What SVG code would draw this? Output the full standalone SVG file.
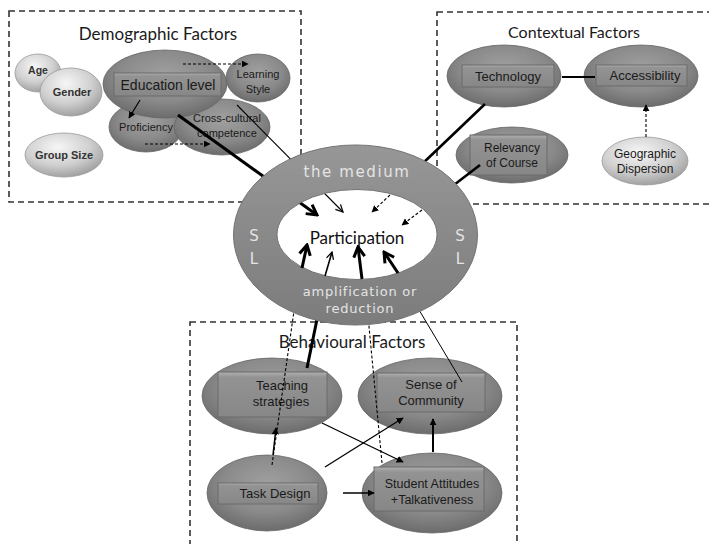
<svg xmlns="http://www.w3.org/2000/svg" width="709" height="544" viewBox="0 0 709 544">
<defs>
<radialGradient id="gDark" cx="50%" cy="38%" r="62%">
<stop offset="0" stop-color="#a0a0a0"/><stop offset="0.6" stop-color="#8a8a8a"/><stop offset="1" stop-color="#6c6c6c"/>
</radialGradient>
<radialGradient id="gLight" cx="42%" cy="32%" r="68%">
<stop offset="0" stop-color="#f6f6f6"/><stop offset="0.6" stop-color="#d0d0d0"/><stop offset="1" stop-color="#a2a2a2"/>
</radialGradient>
<linearGradient id="gRect" x1="0" y1="0" x2="0" y2="1">
<stop offset="0" stop-color="#b0b0b0"/><stop offset="0.12" stop-color="#939393"/><stop offset="1" stop-color="#878787"/>
</linearGradient>
<linearGradient id="gRing" x1="0" y1="0" x2="0" y2="1">
<stop offset="0" stop-color="#979797"/><stop offset="0.5" stop-color="#898989"/><stop offset="1" stop-color="#7c7c7c"/>
</linearGradient>
<marker id="chevT" markerUnits="userSpaceOnUse" viewBox="0 0 14 14" refX="12" refY="7" markerWidth="14" markerHeight="14" orient="auto">
<path d="M2,1.5 L12,7 L2,12.5" fill="none" stroke="#000" stroke-width="3"/>
</marker>
<marker id="chevS" markerUnits="userSpaceOnUse" viewBox="0 0 10 10" refX="9" refY="5" markerWidth="9" markerHeight="9" orient="auto">
<path d="M1,1 L9,5 L1,9" fill="none" stroke="#000" stroke-width="1.4"/>
</marker>
<marker id="tri" markerUnits="userSpaceOnUse" viewBox="0 0 10 10" refX="9" refY="5" markerWidth="7" markerHeight="7" orient="auto">
<path d="M0,0 L10,5 L0,10 z" fill="#000"/>
</marker>
</defs>
<style>
.box{fill:none;stroke:#333;stroke-width:1.6;stroke-dasharray:6 4}
.title{font-family:Lato,"Liberation Sans",sans-serif;fill:#1a1a1a;text-anchor:middle}
.dk{fill:url(#gDark);stroke:#666;stroke-width:0.8}
.lt{fill:url(#gLight);stroke:#999;stroke-width:0.8}
.rc{fill:url(#gRect);stroke:#6a6a6a;stroke-width:1}
.lbl{font-family:"Liberation Sans",Arial,sans-serif;fill:#1a1a1a;text-anchor:middle}
.b{font-weight:bold;fill:#333}
.ring{font-family:"DejaVu Sans",sans-serif;fill:#e4e4e4;text-anchor:middle}
.s{fill:none;stroke:#000}
.dash{fill:none;stroke:#000;stroke-width:1.1;stroke-dasharray:3 2}
</style>
<rect width="709" height="544" fill="#fff"/>

<g id="frames">
<rect class="box" x="9" y="11" width="292" height="191"/>
<rect class="box" x="437" y="12" width="285" height="192"/>
<rect class="box" x="190" y="322" width="327" height="240"/>
<text class="title" x="158" y="40" font-size="17">Demographic Factors</text>
<text class="title" x="574" y="38" font-size="16">Contextual Factors</text>
<text class="title" x="352" y="348" font-size="17">Behavioural Factors</text>
</g>

<g id="age"><ellipse class="lt" cx="38" cy="73" rx="23" ry="19"/><text class="lbl b" x="38" y="74" font-size="10.5">Age</text></g>
<g id="gender"><ellipse class="lt" cx="71" cy="92" rx="31" ry="24"/><text class="lbl b" x="72" y="96" font-size="11">Gender</text></g>
<g id="groupsize"><ellipse class="lt" cx="64" cy="155" rx="39" ry="22"/><text class="lbl b" x="64" y="159" font-size="11">Group Size</text></g>
<g id="proficiency"><ellipse class="dk" cx="146" cy="127" rx="37" ry="25"/><text class="lbl" x="146" y="131" font-size="11">Proficiency</text></g>
<g id="crosscultural"><ellipse class="dk" cx="222" cy="127" rx="48" ry="28"/><text class="lbl" x="227" y="122" font-size="11">Cross-cultural</text><text class="lbl" x="227" y="137" font-size="11">competence</text></g>
<g id="learningstyle"><ellipse class="dk" cx="258" cy="78" rx="32" ry="24"/><text class="lbl" x="258" y="78" font-size="11">Learning</text><text class="lbl" x="258" y="93" font-size="11">Style</text></g>
<g id="education"><ellipse class="dk" cx="165" cy="84" rx="62" ry="34"/><rect class="rc" x="114" y="73" width="107" height="23"/><text class="lbl" x="168" y="90" font-size="14">Education level</text></g>

<g id="technology"><ellipse class="dk" cx="504" cy="76" rx="57" ry="31"/><rect class="rc" x="462" y="65" width="92" height="22"/><text class="lbl" x="508" y="81" font-size="13">Technology</text></g>
<g id="accessibility"><ellipse class="dk" cx="641" cy="76" rx="57" ry="31"/><rect class="rc" x="596" y="65" width="91" height="21"/><text class="lbl" x="645" y="80" font-size="13">Accessibility</text></g>
<g id="relevancy"><ellipse class="dk" cx="512" cy="155" rx="56" ry="28"/><rect class="rc" x="470" y="135" width="77" height="40"/><text class="lbl" x="512" y="152" font-size="12">Relevancy</text><text class="lbl" x="512" y="167" font-size="12">of Course</text></g>
<g id="geographic"><ellipse class="lt" cx="645" cy="161" rx="43" ry="24"/><text class="lbl" x="645" y="158" font-size="12" fill="#2a2a2a">Geographic</text><text class="lbl" x="645" y="173" font-size="12">Dispersion</text></g>

<g id="teaching"><ellipse class="dk" cx="272" cy="396" rx="70" ry="38"/><rect class="rc" x="218" y="372" width="109" height="45"/><text class="lbl" x="282" y="390" font-size="13">Teaching</text><text class="lbl" x="281" y="406" font-size="13">strategies</text></g>
<g id="community"><ellipse class="dk" cx="430" cy="396" rx="72" ry="38"/><rect class="rc" x="377" y="373" width="108" height="39"/><text class="lbl" x="431" y="389" font-size="13">Sense of</text><text class="lbl" x="431" y="405" font-size="13">Community</text></g>
<g id="taskdesign"><ellipse class="dk" cx="267" cy="493" rx="60" ry="38"/><rect class="rc" x="218" y="483" width="100" height="21"/><text class="lbl" x="275" y="498" font-size="13">Task Design</text></g>
<g id="attitudes"><ellipse class="dk" cx="432" cy="493" rx="70" ry="40"/><rect class="rc" x="374" y="467" width="110" height="44"/><text class="lbl" x="432" y="488" font-size="12.5">Student Attitudes</text><text class="lbl" x="432" y="504" font-size="12.5">+Talkativeness</text></g>

<g id="connectors">
<line class="dash" x1="183" y1="64" x2="248" y2="64" marker-end="url(#tri)"/>
<line class="dash" x1="145" y1="144" x2="210" y2="144" marker-end="url(#tri)"/>
<line class="s" stroke-width="1.2" x1="140" y1="100" x2="129" y2="118" marker-end="url(#tri)"/>
<line class="s" stroke-width="3" x1="178" y1="115" x2="317" y2="215" marker-end="url(#chevT)"/>
<line class="s" stroke-width="1.1" x1="237" y1="105" x2="343" y2="212" marker-end="url(#chevS)"/>
<line class="s" stroke-width="2" x1="562" y1="77" x2="595" y2="77"/>
<line class="dash" x1="646" y1="137" x2="646" y2="105" marker-end="url(#tri)"/>
<line class="s" stroke-width="2.6" x1="485" y1="104" x2="420" y2="166"/>
<line class="s" stroke-width="2.6" x1="480" y1="165" x2="450" y2="188"/>
<line class="dash" x1="272" y1="465" x2="297" y2="290"/>
<line class="s" stroke-width="3" x1="307" y1="368" x2="322" y2="295"/>
<line class="dash" x1="382" y1="463" x2="366" y2="295"/>
<line class="s" stroke-width="1" x1="462" y1="382" x2="400" y2="278"/>
<line class="s" stroke-width="1.5" x1="273" y1="455" x2="276" y2="428" marker-end="url(#tri)"/>
<line class="s" stroke-width="1.3" x1="322" y1="423" x2="403" y2="462" marker-end="url(#tri)"/>
<line class="s" stroke-width="1.3" x1="325" y1="467" x2="403" y2="418" marker-end="url(#tri)"/>
<line class="s" stroke-width="1.5" x1="343" y1="493" x2="374" y2="493" marker-end="url(#tri)"/>
<line class="s" stroke-width="2" x1="433" y1="452" x2="433" y2="419" marker-end="url(#tri)"/>
</g>

<g id="medium">
<path d="M233.5,235 a122,90 0 1,0 244,0 a122,90 0 1,0 -244,0 Z M277,234.5 a80,45 0 1,0 160,0 a80,45 0 1,0 -160,0 Z" fill="url(#gRing)" fill-rule="evenodd" stroke="#737373" stroke-width="1"/>
<text class="ring" x="357" y="177" font-size="15" letter-spacing="1.6">the medium</text>
<text class="ring" x="254" y="241" font-size="15">S</text>
<text class="ring" x="254" y="264" font-size="15">L</text>
<text class="ring" x="460" y="241" font-size="15">S</text>
<text class="ring" x="460" y="264" font-size="15">L</text>
<text class="ring" x="360" y="296" font-size="13" letter-spacing="0.8">amplification or</text>
<text class="ring" x="360" y="313" font-size="13" letter-spacing="0.8">reduction</text>
<text x="357" y="244" font-family="Lato,'Liberation Sans',sans-serif" font-size="17" fill="#111" text-anchor="middle">Participation</text>
</g>

<g id="connectors-inner">
<line class="dash" x1="390" y1="195" x2="372" y2="212" marker-end="url(#tri)"/>
<line class="dash" x1="422" y1="210" x2="402" y2="225" marker-end="url(#tri)"/>
<line class="s" stroke-width="3" x1="302" y1="268" x2="307" y2="245" marker-end="url(#chevT)"/>
<line class="s" stroke-width="1.6" x1="325" y1="276" x2="332" y2="252" marker-end="url(#chevS)"/>
<line class="s" stroke-width="3" x1="362" y1="279" x2="358" y2="247" marker-end="url(#chevT)"/>
<line class="s" stroke-width="3" x1="398" y1="273" x2="384" y2="252" marker-end="url(#chevT)"/>
</g>
</svg>
